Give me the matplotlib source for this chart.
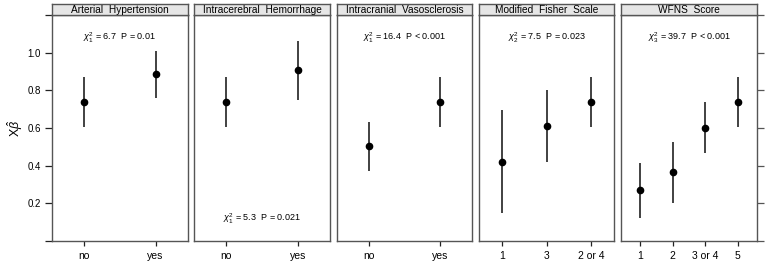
import matplotlib
matplotlib.use('Agg')
import matplotlib.pyplot as plt

plt.rcParams['font.family'] = ['Liberation Sans', 'DejaVu Sans']
plt.rcParams['mathtext.fontset'] = 'custom'
plt.rcParams['mathtext.rm'] = 'Liberation Sans'
plt.rcParams['mathtext.it'] = 'Liberation Sans:italic'

# panel titles
titles = ['Arterial  Hypertension', 'Intracerebral  Hemorrhage',
          'Intracranial  Vasosclerosis', 'Modified  Fisher  Scale', 'WFNS  Score']

# categories per panel
levels_aht = ['no', 'yes']
levels_ich = ['no', 'yes']
levels_vas = ['no', 'yes']
levels_mfs = ['1', '3', '2 or 4']
levels_wfns = ['1', '2', '3 or 4', '5']

# estimates and confidence limits
est_aht = [0.739, 0.886]
lo_aht = [0.605, 0.757]
hi_aht = [0.869, 1.011]

est_ich = [0.739, 0.908]
lo_ich = [0.605, 0.748]
hi_ich = [0.869, 1.064]

est_vas = [0.506, 0.739]
lo_vas = [0.374, 0.605]
hi_vas = [0.632, 0.869]

est_mfs = [0.421, 0.611, 0.739]
lo_mfs = [0.149, 0.419, 0.605]
hi_mfs = [0.694, 0.801, 0.869]

est_wfns = [0.269, 0.364, 0.602, 0.739]
lo_wfns = [0.122, 0.202, 0.467, 0.605]
hi_wfns = [0.415, 0.527, 0.739, 0.869]

# test statistics
chi_df = [1, 1, 1, 2, 3]
chi_val = ['6.7', '5.3', '16.4', '7.5', '39.7']
p_text = ['P = 0.01', 'P = 0.021', 'P < 0.001', 'P = 0.023', 'P < 0.001']

panels = [
    (levels_aht, est_aht, lo_aht, hi_aht),
    (levels_ich, est_ich, lo_ich, hi_ich),
    (levels_vas, est_vas, lo_vas, hi_vas),
    (levels_mfs, est_mfs, lo_mfs, hi_mfs),
    (levels_wfns, est_wfns, lo_wfns, hi_wfns),
]

W, H = 767, 264
fig = plt.figure(figsize=(W / 100, H / 100), dpi=100)

frame = '#555555'
left0, step, pw = 52, 142.3, 135.5
top, bottom, strip_top = 15, 241, 4

for i, (levels, est, lo, hi) in enumerate(panels):
    x0 = left0 + i * step
    ax = fig.add_axes([x0 / W, (H - bottom) / H, pw / W, (bottom - top) / H])
    st = fig.add_axes([x0 / W, (H - top) / H, pw / W, (top - strip_top) / H])

    n = len(levels)
    xs = list(range(1, n + 1))
    m = 0.31 + 0.068 * n
    ax.set_xlim(1 - m, n + m)
    ax.set_ylim(0, 1.2)

    ax.vlines(xs, lo, hi, color='#333333', lw=1.3)
    ax.plot(xs, est, 'o', color='black', ms=4.5)

    ax.set_xticks(xs)
    ax.set_xticklabels(levels, fontsize=7.5)
    ax.tick_params(axis='x', direction='out', length=3.5, width=0.9, color='#222222', pad=4)

    yt = [0, 0.2, 0.4, 0.6, 0.8, 1.0, 1.2]
    ax.set_yticks(yt)
    if i == 0:
        ax.set_yticklabels(['', '0.2', '0.4', '0.6', '0.8', '1.0', ''], fontsize=7)
        ax.tick_params(axis='y', direction='out', length=5, width=0.9, color='#222222', pad=3)
        ax.set_ylabel(r'$\mathrm{X}\hat{\beta}$', fontsize=9, labelpad=2)
    elif i == 4:
        ax.yaxis.tick_right()
        ax.set_yticklabels([])
        ax.tick_params(axis='y', direction='out', length=5, width=0.9, color='#555555')
    else:
        ax.tick_params(axis='y', left=False, labelleft=False)

    for s in ax.spines.values():
        s.set_color(frame)
        s.set_linewidth(1.0)

    ylab = 0.117 if i == 1 else 1.08
    ax.text((1 + n) / 2, ylab,
            r'$\chi^2_{%d}$' % chi_df[i] + ' = ' + chi_val[i] + '  ' + p_text[i],
            ha='center', va='center', fontsize=6.5)

    st.set_facecolor('#e6e6e6')
    st.set_xticks([])
    st.set_yticks([])
    for s in st.spines.values():
        s.set_color(frame)
        s.set_linewidth(1.0)
    st.text(0.5, 0.45, titles[i], ha='center', va='center', fontsize=7.3,
            transform=st.transAxes)

fig.savefig('out.png', dpi=100)
